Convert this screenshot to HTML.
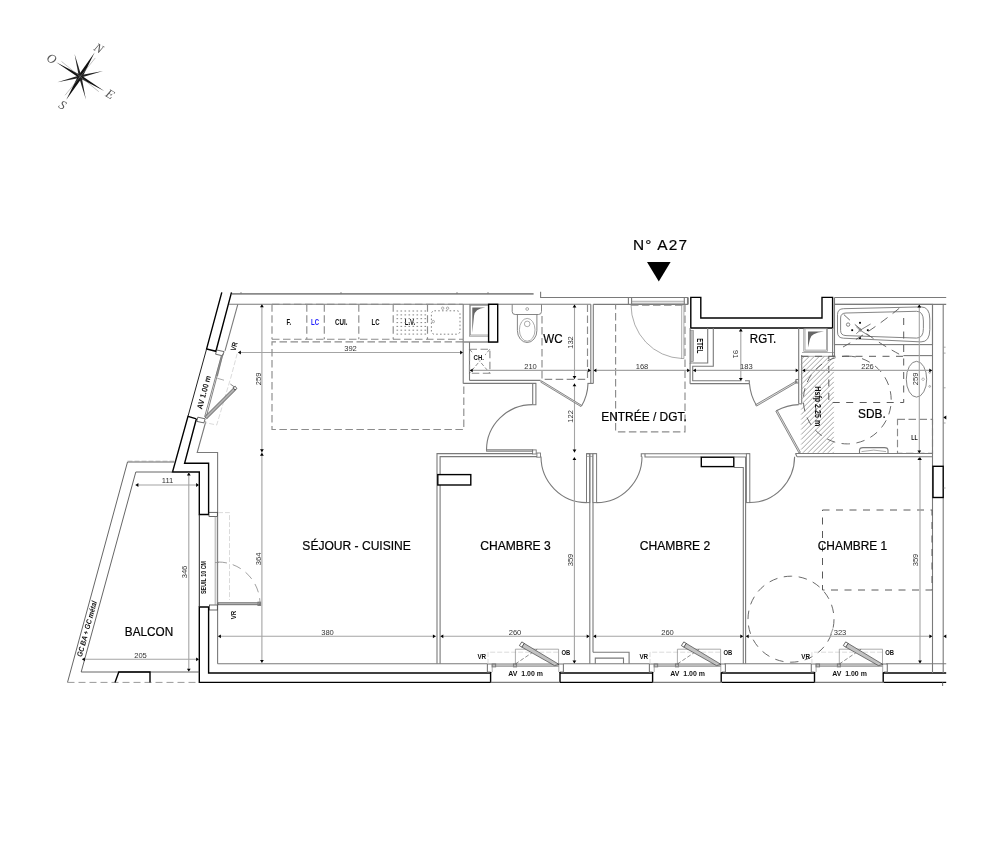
<!DOCTYPE html>
<html lang="fr"><head><meta charset="utf-8"><title>Plan N° A27</title>
<style>
html,body{margin:0;padding:0;background:#fff}
svg{display:block}
#all{opacity:.999}
text{font-family:"Liberation Sans",sans-serif;fill:#000}
.b{fill:none;stroke:#000;stroke-width:1.4;stroke-linejoin:miter}
.b2{fill:#fff;stroke:#000;stroke-width:1.4}
.t{fill:none;stroke:#7a7a7a;stroke-width:1.1}
.dw{fill:#fff;stroke:#7a7a7a;stroke-width:1}
.dr{fill:#e4e4e4;stroke:#6e6e6e;stroke-width:.8}
.g2{fill:none;stroke:#777;stroke-width:.9}
.tw{fill:#fff;stroke:#2a2a2a;stroke-width:.7}
.t2{fill:none;stroke:#8a8a8a;stroke-width:1.7}
.g{fill:none;stroke:#888;stroke-width:.7}
.gf{fill:#bbb;stroke:#777;stroke-width:.5}
.lf2{fill:#b0b0b0;stroke:#4a4a4a;stroke-width:.8}
.tk2{fill:none;stroke:#555;stroke-width:.9}
.dshL{fill:none;stroke:#9a9a9a;stroke-width:1;stroke-dasharray:7 4}
.tk{fill:none;stroke:#222;stroke-width:1}
.lf{fill:#c2c2c2;stroke:#444;stroke-width:.7}
.dm{fill:none;stroke:#a4a4a4;stroke-width:1.1}
.ar{fill:#000;stroke:none}
.dsh{fill:none;stroke:#8c8c8c;stroke-width:1.15;stroke-dasharray:7.5 3.5}
.dshB{fill:none;stroke:#5a5a5a;stroke-width:1;stroke-dasharray:7 6.5}
.dsh2{fill:none;stroke:#888;stroke-width:.8;stroke-dasharray:9 6}
.dsh3{fill:none;stroke:#5a5a5a;stroke-width:.9;stroke-dasharray:8.5 6.5}
.dsh4{fill:none;stroke:#444;stroke-width:.6;stroke-dasharray:4 2}
.ld{fill:none;stroke:#ccc;stroke-width:.7;stroke-dasharray:5 2}
.ld2{fill:none;stroke:#999;stroke-width:.7;stroke-dasharray:5 2}
.dot{fill:none;stroke:#777;stroke-width:.9}
.dotr{fill:none;stroke:#777;stroke-width:.9;stroke-dasharray:1.6 2.2}
.hat{fill:none;stroke:#9c9c9c;stroke-width:.9}
.shade{fill:#666;stroke:none}
.dt{font-size:7.6px;fill:#333}
.rm{font-size:12.3px;fill:#000;stroke:#000;stroke-width:.22}
.sb{font-size:7.6px;font-weight:bold;fill:#111}
.sb3{font-size:8px;font-weight:bold;fill:#111}
.sb4{font-size:8.6px;font-weight:bold;fill:#111}
.sk{font-size:8.4px;font-weight:bold;fill:#111}
.skb{font-size:8.4px;font-weight:bold;fill:#2222ff}
.sb2{font-size:6.9px;font-weight:bold;fill:#111}
.sbb{font-size:7.6px;fill:#1a1aff;stroke:#1a1aff;stroke-width:.28}
.sbi{font-size:7.6px;font-weight:bold;font-style:italic;fill:#111}
.ttl{font-size:15.4px;stroke:#000;stroke-width:.2}
.ct{font-family:"Liberation Serif",serif;font-style:italic;font-size:12.5px;fill:#555}
.cf{fill:#111;stroke:none}
.cf2{fill:#222;stroke:none}
.cl{stroke:#888;stroke-width:.5}
</style></head><body>
<svg width="1000" height="857" viewBox="0 0 1000 857">
<defs><pattern id="hatch" width="3.5" height="3.5" patternUnits="userSpaceOnUse" patternTransform="rotate(-45)"><line x1="0" y1="1" x2="3.5" y2="1" stroke="#999" stroke-width=".9"/></pattern></defs>
<rect width="1000" height="857" fill="#fff"/>
<g id="all">
<g id="compass">
<polygon class="cf" points="78.31423193845535,75.46691623519787 94.62106609748152,52.59931558034085 82.08576806154466,77.73308376480212"/>
<polygon class="cf" points="82.08576806154466,77.73308376480212 66.29397197742854,99.74351711895703 78.31423193845535,75.46691623519787"/>
<polygon class="cf" points="81.02406091985608,75.22853231887662 104.20068441965915,91.02106609748151 79.37593908014392,77.97146768112337"/>
<polygon class="cf" points="79.37593908014392,77.97146768112337 56.19931558034086,62.17893390251848 81.02406091985608,75.22853231887662"/>
<polygon class="cf2" points="79.88550153572044,75.3386155558412 103.00194956748592,70.9148354534078 80.51449846427957,77.86138444415879"/>
<polygon class="cf2" points="81.4613844441588,76.28550153572043 85.8851645465922,99.40194956748591 78.93861555584121,76.91449846427956"/>
<polygon class="cf2" points="80.51449846427957,77.86138444415879 57.39805043251408,82.28516454659218 79.88550153572044,75.3386155558412"/>
<polygon class="cf2" points="78.93861555584121,76.91449846427956 74.51483545340781,53.798050432514074 81.4613844441588,76.28550153572043"/>
<line class="cl" x1="80.2" y1="76.6" x2="95.3" y2="57.95"/>
<line class="cl" x1="80.2" y1="76.6" x2="65.1" y2="95.25"/>
<line class="cl" x1="80.2" y1="76.6" x2="98.85" y2="91.7"/>
<line class="cl" x1="80.2" y1="76.6" x2="61.55" y2="61.5"/>
<text class="ct" x="98.6" y="48.3" text-anchor="middle" transform="rotate(30 98.6 48.3)" dy="4">N</text>
<text class="ct" x="51.6" y="58.8" text-anchor="middle" transform="rotate(30 51.6 58.8)" dy="4">O</text>
<text class="ct" x="62.5" y="105.2" text-anchor="middle" transform="rotate(30 62.5 105.2)" dy="4">S</text>
<text class="ct" x="110" y="94.3" text-anchor="middle" transform="rotate(30 110 94.3)" dy="4">E</text>
</g>
<text class="ttl" x="660" y="250.2" text-anchor="middle" textLength="54" lengthAdjust="spacing">N° A27</text>
<polygon class="ar" points="647,262 670.6,262 658.8,281.6"/>
<polyline class="b" points="221.8,292.4 206.6,348.9 215.9,351.3 231.5,292.4"/>
<polyline class="b" points="196.4,418.8 188,416.3 172.5,472 199.3,472 199.3,514.5 208.6,514.5 208.6,463.2 184.6,463.2 196.4,418.8"/>
<line class="tk" x1="206.6" y1="348.9" x2="188" y2="416.3"/>
<polygon class="b" points="199.3,607 208.6,607 208.6,673 490.6,673 490.6,682.4 199.3,682.4 199.3,607"/>
<polygon class="b" points="560,673 652.6,673 652.6,682.4 560,682.4"/>
<polygon class="b" points="721.2,673 814.5,673 814.5,682.4 721.2,682.4"/>
<polyline class="b" points="946.2,673 883.2,673 883.2,682.4 946.2,682.4"/>
<line class="t" x1="942.6" y1="682.4" x2="942.6" y2="686"/>
<polygon class="b" points="690.8,297.4 700.8,297.4 700.8,318 822,318 822,297.4 832.6,297.4 832.6,328 690.8,328"/>
<line class="t2" x1="232" y1="293.8" x2="533.6" y2="293.8"/>
<line class="t" x1="228.9" y1="304.3" x2="590.8" y2="304.3"/>
<polyline class="t" points="540.6,291.7 540.6,297.5 688.2,297.5"/>
<line class="t" x1="593.3" y1="304.4" x2="688" y2="304.4"/>
<line class="t" x1="241" y1="292.3" x2="241" y2="294"/>
<line class="t" x1="341" y1="292.3" x2="341" y2="294"/>
<line class="t" x1="457" y1="292.3" x2="457" y2="294"/>
<line class="t" x1="488" y1="292.3" x2="488" y2="294"/>
<polyline class="t" points="237.8,304.3 225,350.9"/>
<polyline class="t" points="205.8,421.5 197.2,452.5 217.6,452.5 217.6,663.8"/>
<line class="t" x1="217.6" y1="663.8" x2="487.4" y2="663.8"/>
<line class="t" x1="563.4" y1="663.8" x2="649.6" y2="663.8"/>
<line class="t" x1="724.4" y1="663.8" x2="811.4" y2="663.8"/>
<line class="t" x1="886.2" y1="663.8" x2="946.2" y2="663.8"/>
<g id="winL">
<polygon class="tw" points="216.7,350 224.1,351.6 222.6,355.8 215.6,354.2"/>
<polygon class="tw" points="197.8,417.2 205.2,418.8 203.9,422.9 196.8,421.4"/>
<polygon class="gf" points="223,353.8 221.5,355.7 216,375.6 217.6,376"/>
<line class="g2" x1="223" y1="353.8" x2="206.2" y2="417.2"/>
<line class="g2" x1="221.4" y1="355.7" x2="204.7" y2="416.6"/>
<line class="g" x1="217.3" y1="378.3" x2="224" y2="380.2"/>
<polyline class="ld" points="237.2,353.6 231,377 216.7,425 204.5,422.5"/>
<line class="g2" x1="230.4" y1="384.1" x2="235.6" y2="387.8"/>
<polygon class="lf2" points="204.8,416.7 233.9,387.7 235.9,389.7 206.8,418.7"/>
<polygon class="tw" points="233.2,387.6 235.3,386.3 236.9,388.6 234.8,390"/>
</g>
<text class="sb3" x="206.5" y="393" text-anchor="middle" transform="rotate(-74.7 206.5 393)" textLength="34.5" lengthAdjust="spacingAndGlyphs">AV 1.00 m</text>
<text class="sb" x="236.6" y="347.2" text-anchor="middle" transform="rotate(-74.7 236.6 347.2)" textLength="8.6" lengthAdjust="spacingAndGlyphs">VR</text>
<polyline class="tk2" points="174.3,462 127.5,462 67.5,682.4"/>
<line class="ld2" x1="127.5" y1="461.2" x2="174.3" y2="461.2"/>
<polyline class="tk2" points="172.5,472 135.8,472 81.2,672 199.3,672"/>
<line class="dshL" x1="67.5" y1="682.4" x2="199.3" y2="682.4"/>
<polyline class="b" points="115,682.4 118.8,672 150,672 150,682.4"/>
<line class="dm" x1="135.5" y1="485" x2="199" y2="485"/>
<polygon class="ar" points="135.5,485 138.4,483.1 138.4,486.9"/>
<polygon class="ar" points="199,485 196.1,483.1 196.1,486.9"/>
<text class="dt" x="167.5" y="483.4" text-anchor="middle">111</text>
<line class="dm" x1="188.8" y1="472.5" x2="188.8" y2="671.6"/>
<polygon class="ar" points="188.8,472.5 186.9,475.4 190.70000000000002,475.4"/>
<polygon class="ar" points="188.8,671.6 186.9,668.7 190.70000000000002,668.7"/>
<text class="dt" x="187.20000000000002" y="572" text-anchor="middle" transform="rotate(-90 187.20000000000002 572)">346</text>
<line class="dm" x1="82" y1="659.3" x2="199" y2="659.3"/>
<polygon class="ar" points="82,659.3 84.9,657.4 84.9,661.1999999999999"/>
<polygon class="ar" points="199,659.3 196.1,657.4 196.1,661.1999999999999"/>
<text class="dt" x="140.5" y="657.6999999999999" text-anchor="middle">205</text>
<text class="rm" x="149" y="636.3" text-anchor="middle" textLength="48.3" lengthAdjust="spacingAndGlyphs">BALCON</text>
<text class="sbi" x="89.4" y="629.5" text-anchor="middle" transform="rotate(-74.7 89.4 629.5)" textLength="57.5" lengthAdjust="spacingAndGlyphs">GC BA + GC métal</text>
<text class="sb2" x="205.6" y="577.5" text-anchor="middle" transform="rotate(-90 205.6 577.5)" textLength="33" lengthAdjust="spacingAndGlyphs">SEUIL 10 CM</text>
<text class="sb" x="236.3" y="615" text-anchor="middle" transform="rotate(-90 236.3 615)" textLength="8.6" lengthAdjust="spacingAndGlyphs">VR</text>
<line class="tk" x1="199.3" y1="514.5" x2="199.3" y2="607"/>
<rect class="tw" x="209" y="512.3" width="8.3" height="4.2" />
<rect class="tw" x="209.4" y="605" width="7.9" height="5" />
<line class="g" x1="215.2" y1="516.5" x2="215.2" y2="605"/>
<line class="g" x1="217.2" y1="516.5" x2="217.2" y2="605"/>
<polyline class="ld" points="218,512.6 229.5,512.6 229.5,600"/>
<rect class="lf" x="218" y="602.8" width="42" height="2.0" />
<rect class="t" x="258" y="602.2" width="2.6" height="3.2" />
<path class="dsh2" d="M218,562 A42,42 0 0 1 260,603"/>
<line class="g" x1="215" y1="562.5" x2="219" y2="562.5"/>
<line class="dm" x1="261.9" y1="304.3" x2="261.9" y2="662.8"/>
<polygon class="ar" points="261.9,304.3 260.0,307.2 263.79999999999995,307.2"/>
<polygon class="ar" points="261.9,662.8 260.0,659.9 263.79999999999995,659.9"/>
<polygon class="ar" points="261.9,452.2 260.0,449.3 263.79999999999995,449.3"/>
<polygon class="ar" points="261.9,452.8 260.0,455.7 263.79999999999995,455.7"/>
<text class="dt" x="260.7" y="378.8" text-anchor="middle" transform="rotate(-90 260.7 378.8)">259</text>
<text class="dt" x="260.7" y="558.8" text-anchor="middle" transform="rotate(-90 260.7 558.8)">364</text>
<line class="dm" x1="238" y1="352.5" x2="463" y2="352.5"/>
<polygon class="ar" points="238,352.5 240.9,350.6 240.9,354.4"/>
<polygon class="ar" points="463,352.5 460.1,350.6 460.1,354.4"/>
<text class="dt" x="350.5" y="350.9" text-anchor="middle">392</text>
<line class="dm" x1="218" y1="636.3" x2="435.8" y2="636.3"/>
<polygon class="ar" points="218,636.3 220.9,634.4 220.9,638.1999999999999"/>
<polygon class="ar" points="435.8,636.3 432.90000000000003,634.4 432.90000000000003,638.1999999999999"/>
<text class="dt" x="327.5" y="634.6999999999999" text-anchor="middle">380</text>
<text class="rm" x="356.6" y="550.3" text-anchor="middle" textLength="108.5" lengthAdjust="spacingAndGlyphs">SÉJOUR - CUISINE</text>
<line class="dsh" x1="272" y1="304.3" x2="462.8" y2="304.3"/>
<line class="dsh" x1="272" y1="304.3" x2="272" y2="339.2"/>
<line class="dsh" x1="306.8" y1="304.3" x2="306.8" y2="339.2"/>
<line class="dsh" x1="324.3" y1="304.3" x2="324.3" y2="339.2"/>
<line class="dsh" x1="358.8" y1="304.3" x2="358.8" y2="339.2"/>
<line class="dsh" x1="393.2" y1="304.3" x2="393.2" y2="339.2"/>
<line class="dsh" x1="427.5" y1="304.3" x2="427.5" y2="339.2"/>
<line class="dsh" x1="272" y1="339.2" x2="463" y2="339.2"/>
<polyline class="dsh" points="463,341.9 272,341.9 272,429.5 463.8,429.5 463.8,386"/>
<text class="sk" x="288.8" y="324.6" text-anchor="middle" textLength="4.6" lengthAdjust="spacingAndGlyphs">F.</text>
<text class="skb" x="315" y="324.6" text-anchor="middle" textLength="8" lengthAdjust="spacingAndGlyphs">LC</text>
<text class="sk" x="341.3" y="324.6" text-anchor="middle" textLength="12.5" lengthAdjust="spacingAndGlyphs">CUI.</text>
<text class="sk" x="375.5" y="324.6" text-anchor="middle" textLength="8" lengthAdjust="spacingAndGlyphs">LC</text>
<text class="sk" x="410" y="324.6" text-anchor="middle" textLength="10.5" lengthAdjust="spacingAndGlyphs">L.V.</text>
<path class="dot" d="M396.5,311.0h1.6M396.5,314.9h1.6M396.5,318.7h1.6M396.5,322.6h1.6M396.5,326.4h1.6M396.5,330.2h1.6M396.5,334.1h1.6M400.5,311.0h1.6M400.5,314.9h1.6M400.5,318.7h1.6M400.5,322.6h1.6M400.5,326.4h1.6M400.5,330.2h1.6M400.5,334.1h1.6M404.5,311.0h1.6M404.5,314.9h1.6M404.5,318.7h1.6M404.5,322.6h1.6M404.5,326.4h1.6M404.5,330.2h1.6M404.5,334.1h1.6M408.5,311.0h1.6M408.5,314.9h1.6M408.5,318.7h1.6M408.5,322.6h1.6M408.5,326.4h1.6M408.5,330.2h1.6M408.5,334.1h1.6M412.5,311.0h1.6M412.5,314.9h1.6M412.5,318.7h1.6M412.5,322.6h1.6M412.5,326.4h1.6M412.5,330.2h1.6M412.5,334.1h1.6M416.5,311.0h1.6M416.5,314.9h1.6M416.5,318.7h1.6M416.5,322.6h1.6M416.5,326.4h1.6M416.5,330.2h1.6M416.5,334.1h1.6M420.5,311.0h1.6M420.5,314.9h1.6M420.5,318.7h1.6M420.5,322.6h1.6M420.5,326.4h1.6M420.5,330.2h1.6M420.5,334.1h1.6M424.5,311.0h1.6M424.5,314.9h1.6M424.5,318.7h1.6M424.5,322.6h1.6M424.5,326.4h1.6M424.5,330.2h1.6M424.5,334.1h1.6"/>
<rect class="dotr" x="431.4" y="310.8" width="28.6" height="23.4" rx="3"/>
<circle class="g" cx="442.7" cy="308.2" r="1.2"/>
<circle class="g" cx="447.6" cy="308.2" r="1.2"/>
<circle class="g" cx="433.3" cy="321.6" r="1.2"/>
<line class="t" x1="463.2" y1="304.3" x2="463.2" y2="383.4"/>
<rect class="g" x="469.5" y="304.3" width="19.1" height="31.9" />
<rect class="g" x="470.6" y="305.4" width="18.0" height="29.6" />
<path class="shade" d="M472.3,307.6 L485.3,307.6 Q474.5,309 474,316 L472.3,332.9 Z"/>
<line class="t2" x1="463.2" y1="342" x2="497.7" y2="342"/>
<rect class="b2" x="488.6" y="304.3" width="9.1" height="37.7" />
<line class="t" x1="469.5" y1="342" x2="469.5" y2="380.4"/>
<rect class="dsh" x="469.5" y="349.2" width="20.4" height="24.0" />
<line class="dsh4" x1="469.5" y1="349.2" x2="489.9" y2="373.2"/>
<line class="dsh4" x1="489.9" y1="349.2" x2="469.5" y2="373.2"/>
<rect x="473" y="353" width="12" height="7.6" fill="#fff"/>
<text class="sb" x="478.8" y="359.7" text-anchor="middle" textLength="10.4" lengthAdjust="spacingAndGlyphs">CH.</text>
<polyline class="t" points="469.5,380.4 540.6,380.4"/>
<polyline class="t" points="463.2,383.4 536.3,383.4"/>
<polyline class="t" points="532.7,383.4 532.7,404.8"/>
<polyline class="t" points="535.9,383.4 535.9,404.8 532.7,404.8"/>
<path class="g2" d="M512.2,304.4 L512.2,311.5 Q512.2,314.5 515.2,314.5 L538.5,314.5 Q541.5,314.5 541.5,311.5 L541.5,304.4"/>
<path class="g2" d="M517.4,314.5 L517.4,330.5 A9.75,12 0 0 0 536.9,330.5 L536.9,314.5"/>
<ellipse class="g" cx="527.2" cy="329.8" rx="7.8" ry="11.4"/>
<circle class="g" cx="527.2" cy="309" r="1.4"/><circle class="g" cx="527.2" cy="323.9" r="2.8"/>
<text class="rm" x="553" y="342.5" text-anchor="middle" textLength="19.3" lengthAdjust="spacingAndGlyphs">WC</text>
<polyline class="dsh" points="542,316 542,379.3 587.5,379.3 587.5,304.3"/>
<line class="t" x1="590.8" y1="304.3" x2="590.8" y2="383.4"/>
<line class="t" x1="593.3" y1="304.3" x2="593.3" y2="383.4"/>
<line class="t" x1="587.5" y1="383.4" x2="593.3" y2="383.4"/>
<line class="dm" x1="469.8" y1="370.4" x2="591" y2="370.4"/>
<polygon class="ar" points="469.8,370.4 472.7,368.5 472.7,372.29999999999995"/>
<polygon class="ar" points="591,370.4 588.1,368.5 588.1,372.29999999999995"/>
<text class="dt" x="530.5" y="368.79999999999995" text-anchor="middle">210</text>
<line class="dm" x1="574.5" y1="304.6" x2="574.5" y2="379"/>
<polygon class="ar" points="574.5,304.6 572.6,307.5 576.4,307.5"/>
<polygon class="ar" points="574.5,379 572.6,376.1 576.4,376.1"/>
<text class="dt" x="572.9" y="342.5" text-anchor="middle" transform="rotate(-90 572.9 342.5)">132</text>
<line class="dm" x1="574.5" y1="383.4" x2="574.5" y2="452.5"/>
<polygon class="ar" points="574.5,383.4 572.6,386.29999999999995 576.4,386.29999999999995"/>
<polygon class="ar" points="574.5,452.5 572.6,449.6 576.4,449.6"/>
<text class="dt" x="572.9" y="416.3" text-anchor="middle" transform="rotate(-90 572.9 416.3)">122</text>
<polygon class="dr" points="541.4,380.8 581.7,405.4 581,406.6 540.7,382.1"/>
<path class="t" d="M581.5,406 A47,47 0 0 0 588,383.4"/>
<rect class="dw" x="486.6" y="449.8" width="46.0" height="1.4" />
<path class="t" d="M532.7,404.6 A46.2,45.5 0 0 0 486.5,450"/>
<line class="t" x1="628.4" y1="297.5" x2="628.4" y2="304.4"/>
<line class="t" x1="631.6" y1="297.5" x2="631.6" y2="304.4"/>
<line class="t" x1="684.3" y1="297.5" x2="684.3" y2="304.4"/>
<line class="t" x1="687.5" y1="297.5" x2="687.5" y2="304.4"/>
<line class="t" x1="688.2" y1="297.5" x2="688.2" y2="304.4"/>
<line class="g" x1="631.6" y1="301.3" x2="684.3" y2="301.3"/>
<line class="g" x1="631.6" y1="303.2" x2="684.3" y2="303.2"/>
<line class="g" x1="681.7" y1="304.4" x2="681.7" y2="358.5"/>
<line class="g" x1="683.9" y1="304.4" x2="683.9" y2="358.5"/>
<line class="g" x1="681.7" y1="358.5" x2="683.9" y2="358.5"/>
<path class="g" d="M631,304.5 A52.5,54 0 0 0 682,358.5"/>
<polyline class="dsh" points="685,304.4 685,431.8 615.6,431.8 615.6,304.4"/>
<line class="dsh" x1="631" y1="305.2" x2="685" y2="305.2"/>
<line class="dm" x1="593.5" y1="370.4" x2="690" y2="370.4"/>
<polygon class="ar" points="593.5,370.4 596.4,368.5 596.4,372.29999999999995"/>
<polygon class="ar" points="690,370.4 687.1,368.5 687.1,372.29999999999995"/>
<text class="dt" x="642" y="368.79999999999995" text-anchor="middle">168</text>
<text class="rm" x="644" y="421.3" text-anchor="middle" textLength="85.5" lengthAdjust="spacingAndGlyphs">ENTRÉE / DGT.</text>
<polyline class="t" points="690.1,328 690.1,363 692.7,363"/>
<line class="t" x1="690.1" y1="363" x2="690.1" y2="383.8"/>
<rect class="gf" x="690.4" y="330.5" width="3.0" height="31.2" />
<polyline class="t" points="707.7,328 707.7,363 692.7,363"/>
<polyline class="t" points="713.3,328 713.3,366.3 692.7,366.3 692.7,380.7 741.5,380.7"/>
<polyline class="t" points="690.1,383.6 749.3,383.6 749.3,380.7 745,380.7"/>
<text class="sb4" x="696.8" y="345.8" text-anchor="middle" transform="rotate(90 696.8 345.8)" textLength="15" lengthAdjust="spacingAndGlyphs">ETEL</text>
<text class="rm" x="763" y="342.5" text-anchor="middle" textLength="26.3" lengthAdjust="spacingAndGlyphs">RGT.</text>
<line class="dm" x1="740.8" y1="328.6" x2="740.8" y2="380.8"/>
<polygon class="ar" points="740.8,328.6 738.9,331.5 742.6999999999999,331.5"/>
<polygon class="ar" points="740.8,380.8 738.9,377.90000000000003 742.6999999999999,377.90000000000003"/>
<text class="dt" x="733.4" y="354.3" text-anchor="middle" transform="rotate(90 733.4 354.3)">91</text>
<line class="dm" x1="693" y1="370.4" x2="798.6" y2="370.4"/>
<polygon class="ar" points="693,370.4 695.9,368.5 695.9,372.29999999999995"/>
<polygon class="ar" points="798.6,370.4 795.7,368.5 795.7,372.29999999999995"/>
<text class="dt" x="746.3" y="368.79999999999995" text-anchor="middle">183</text>
<polygon class="dr" points="797.2,382.2 756.5,406.1 755.6,404.7 796.4,380.9"/>
<path class="t" d="M749.5,383.8 A49,49 0 0 0 756.2,405"/>
<line class="t" x1="798.7" y1="328" x2="798.7" y2="403.8"/>
<line class="t" x1="801.7" y1="355" x2="801.7" y2="403.8"/>
<polyline class="t" points="795.8,379.5 798.8,379.5"/>
<polyline class="t" points="795.8,379.5 795.8,383 798.8,383"/>
<polyline class="t" points="798.7,403.8 801.7,403.8"/>
<rect class="g" x="803.8" y="328.7" width="23.8" height="22.6" />
<rect class="g" x="805" y="328.7" width="21.4" height="21.4" />
<path class="shade" d="M808,331.5 L824,331.5 Q810.5,333 810,339 L808,347.5 Z"/>
<line class="g" x1="802" y1="352.5" x2="834.5" y2="352.5"/>
<line class="g" x1="802" y1="356.3" x2="834.5" y2="356.3"/>
<polyline class="t" points="832.6,328 832.6,356 834.5,356 834.5,297.5"/>
<path class="hat" d="M801.2,359.5L804.5,356.2M801.2,364.5L809.5,356.2M801.2,369.5L814.5,356.2M801.2,374.5L819.5,356.2M801.2,379.5L824.5,356.2M801.2,384.5L829.5,356.2M801.2,389.5L833.8,356.9M801.2,394.5L833.8,361.9M801.2,399.5L833.8,366.9M801.2,404.5L833.8,371.9M801.2,409.5L833.8,376.9M801.2,414.5L833.8,381.9M801.2,419.5L833.8,386.9M801.2,424.5L833.8,391.9M801.2,429.5L833.8,396.9M801.2,434.5L833.8,401.9M801.2,439.5L833.8,406.9M801.2,444.5L833.8,411.9M801.2,449.5L833.8,416.9M802.9,452.8L833.8,421.9M807.9,452.8L833.8,426.9M812.9,452.8L833.8,431.9M817.9,452.8L833.8,436.9M822.9,452.8L833.8,441.9M827.9,452.8L833.8,446.9M832.9,452.8L833.8,451.9"/>
<text class="sb4" x="815.2" y="406.3" text-anchor="middle" transform="rotate(90 815.2 406.3)" textLength="40" lengthAdjust="spacingAndGlyphs">Hsfp 2.25 m</text>
<polygon class="dr" points="799,453 775.8,411.2 777.2,410.4 800.4,452.3"/>
<path class="t" d="M776.4,410.8 A47.5,47.5 0 0 1 798.8,404.6"/>
<line class="t" x1="834.5" y1="297.5" x2="946.2" y2="297.5"/>
<line class="t" x1="834.5" y1="304.4" x2="946.2" y2="304.4"/>
<rect class="t" x="834.4" y="304.4" width="98.1" height="40.2" />
<path class="g2" d="M843.5,308.7 L921,306.9 Q929.8,306.9 929.8,319 L929.8,329.5 Q929.8,342 921,341.9 L843.5,338.2 Q837.5,338 837.5,332 L837.5,314.7 Q837.5,308.8 843.5,308.7 Z"/>
<path class="g2" d="M846,313 L916.5,311.3 Q923.4,311.3 923.4,321 L923.4,328.5 Q923.4,338.2 916.5,338.1 L846,335.6 Q840.6,335.4 840.6,330.4 L840.6,318 Q840.6,313.1 846,313 Z"/>
<circle class="g2" cx="848.1" cy="324.6" r="1.7"/>
<circle class="g" cx="860.2" cy="330.2" r="1.2"/>
<polyline class="g2" points="860.2,330.2 870.6,324"/>
<polyline class="g2" points="860.2,330.2 870,336.5"/>
<polyline class="g2" points="860.2,330.2 856.3,326.8"/>
<polyline class="g2" points="860.2,330.2 856.3,333.7"/>
<rect class="ar" x="859.1" y="321.90000000000003" width="1.8" height="1.8" />
<rect class="ar" x="859.1" y="337.20000000000005" width="1.8" height="1.8" />
<rect class="ar" x="851.3000000000001" y="329.3" width="1.8" height="1.8" />
<rect class="ar" x="866.9" y="329.3" width="1.8" height="1.8" />
<line class="t" x1="903.4" y1="355.6" x2="932.5" y2="355.6"/>
<polyline class="dshB" points="801.5,356.3 903.7,356.3"/>
<polyline class="dshB" points="903.7,318 903.7,402.5 828.8,402.5 828.8,356.3"/>
<circle class="dsh3" cx="847.3" cy="400" r="43.9" transform="rotate(-90 847.3 400)"/>
<path class="dsh3" d="M843,347 Q872,331 903.2,305"/>
<path class="dsh3" d="M843.7,314.4 Q868,338 903.2,356.3"/>
<ellipse class="g2" cx="916.5" cy="379.2" rx="10.2" ry="17.9"/>
<polygon class="g" points="923.1,377.7 924.6,379.2 923.1,380.7 921.6,379.2"/>
<circle class="g" cx="929.7" cy="386.4" r="0.9"/><circle class="g" cx="929.7" cy="372.4" r="0.9"/>
<rect class="dsh" x="897.5" y="419.3" width="35.0" height="34.0" />
<text class="sb" x="914.5" y="440.2" text-anchor="middle" textLength="6.5" lengthAdjust="spacingAndGlyphs">LL</text>
<text class="rm" x="871.9" y="417.6" text-anchor="middle" textLength="27.6" lengthAdjust="spacingAndGlyphs">SDB.</text>
<path class="t" d="M859.5,453.3 L859.5,450.5 Q859.5,447.6 863,447.6 L884.5,447.6 Q888,447.6 888,450.5 L888,453.3"/>
<path class="g" d="M861.5,451.6 Q873.7,448.6 886,451.6"/>
<line class="dm" x1="802.3" y1="370.4" x2="932.2" y2="370.4"/>
<polygon class="ar" points="802.3,370.4 805.1999999999999,368.5 805.1999999999999,372.29999999999995"/>
<polygon class="ar" points="932.2,370.4 929.3000000000001,368.5 929.3000000000001,372.29999999999995"/>
<text class="dt" x="867.5" y="368.79999999999995" text-anchor="middle">226</text>
<line class="dm" x1="919.3" y1="304.6" x2="919.3" y2="453.3"/>
<polygon class="ar" points="919.3,304.6 917.4,307.5 921.1999999999999,307.5"/>
<polygon class="ar" points="919.3,453.3 917.4,450.40000000000003 921.1999999999999,450.40000000000003"/>
<text class="dt" x="917.7" y="378.8" text-anchor="middle" transform="rotate(-90 917.7 378.8)">259</text>
<polygon class="ar" points="919.3,457.2 917.4,460.09999999999997 921.1999999999999,460.09999999999997"/>
<line class="t" x1="795.5" y1="453.5" x2="932.5" y2="453.5"/>
<line class="t" x1="797" y1="456.8" x2="932.5" y2="456.8"/>
<line class="t" x1="795.5" y1="453.5" x2="797" y2="456.8"/>
<line class="t" x1="932.5" y1="304.4" x2="932.5" y2="673"/>
<line class="t" x1="943.2" y1="304.4" x2="943.2" y2="466.3"/>
<line class="t" x1="943.2" y1="497.5" x2="943.2" y2="673"/>
<rect class="b2" x="933" y="466.3" width="10.2" height="31.2" />
<line class="g" x1="943.5" y1="347.2" x2="945.6" y2="347.2"/>
<line class="g" x1="943.5" y1="353.1" x2="945.6" y2="353.1"/>
<line class="g" x1="943.5" y1="387.8" x2="945.6" y2="387.8"/>
<line class="g" x1="943.5" y1="417" x2="945.6" y2="417"/>
<line class="g" x1="943.5" y1="423" x2="945.6" y2="423"/>
<line class="g" x1="943.5" y1="488" x2="945.6" y2="488"/>
<polygon class="ar" points="943.4,417.5 946.3,415.6 946.3,419.4"/>
<polyline class="t" points="437,663.8 437,453.6 533,453.6"/>
<polyline class="t" points="440.1,663.8 440.1,456.6 537,456.6"/>
<rect class="g2" x="532.6" y="449.9" width="3.6" height="4.1" />
<rect class="g2" x="536.9" y="453" width="3.6" height="4.2" />
<rect class="b2" x="437.8" y="474.6" width="33.0" height="10.4" />
<text class="rm" x="515.5" y="550" text-anchor="middle" textLength="70.5" lengthAdjust="spacingAndGlyphs">CHAMBRE 3</text>
<line class="dm" x1="440.4" y1="636.3" x2="589.6" y2="636.3"/>
<polygon class="ar" points="440.4,636.3 443.29999999999995,634.4 443.29999999999995,638.1999999999999"/>
<polygon class="ar" points="589.6,636.3 586.7,634.4 586.7,638.1999999999999"/>
<text class="dt" x="515" y="634.6999999999999" text-anchor="middle">260</text>
<rect class="dw" x="586.5" y="453.7" width="3.3" height="48.9" />
<path class="t" d="M586.5,502.6 A45.5,46 0 0 1 541,456.6"/>
<line class="t" x1="589.8" y1="453.7" x2="589.8" y2="663.8"/>
<line class="t" x1="593" y1="453.7" x2="593" y2="652.3"/>
<line class="t" x1="586.5" y1="453.7" x2="596.6" y2="453.7"/>
<line class="g" x1="586.5" y1="456.4" x2="596.6" y2="456.4"/>
<polyline class="t" points="593,652.3 629.1,652.3 629.1,663.8"/>
<polyline class="t" points="595.3,663.8 595.3,658.1 623.5,658.1 623.5,663.8"/>
<line class="dm" x1="574.4" y1="457.2" x2="574.4" y2="663.5"/>
<polygon class="ar" points="574.4,457.2 572.5,460.09999999999997 576.3,460.09999999999997"/>
<polygon class="ar" points="574.4,663.5 572.5,660.6 576.3,660.6"/>
<text class="dt" x="572.8" y="560" text-anchor="middle" transform="rotate(-90 572.8 560)">359</text>
<rect class="dw" x="593" y="453.7" width="3.6" height="48.9" />
<path class="t" d="M596.6,502.6 A45.5,46 0 0 0 642,456.6"/>
<polyline class="t" points="641.3,457 641.3,453.8 750,453.8"/>
<polyline class="t" points="645,453.8 645,457 701.3,457"/>
<rect class="b2" x="701.3" y="457.2" width="32.5" height="9.4" />
<polyline class="t" points="733.8,467.5 743.3,467.5 743.3,663.8"/>
<polyline class="t" points="733.8,457 745.6,457 745.6,663.8"/>
<text class="rm" x="675" y="550" text-anchor="middle" textLength="70.5" lengthAdjust="spacingAndGlyphs">CHAMBRE 2</text>
<line class="dm" x1="593.2" y1="636.3" x2="743.2" y2="636.3"/>
<polygon class="ar" points="593.2,636.3 596.1,634.4 596.1,638.1999999999999"/>
<polygon class="ar" points="743.2,636.3 740.3000000000001,634.4 740.3000000000001,638.1999999999999"/>
<text class="dt" x="667.5" y="634.6999999999999" text-anchor="middle">260</text>
<rect class="dw" x="746.4" y="453.7" width="3.4" height="48.9" />
<path class="t" d="M749.8,502.5 A45,46 0 0 0 794.6,456.8"/>
<rect class="dshB" x="822.5" y="510" width="109.5" height="80" />
<circle class="dsh3" cx="791" cy="619.2" r="43"/>
<text class="rm" x="852.5" y="550" text-anchor="middle" textLength="69.5" lengthAdjust="spacingAndGlyphs">CHAMBRE 1</text>
<line class="dm" x1="745.8" y1="636.3" x2="932.3" y2="636.3"/>
<polygon class="ar" points="745.8,636.3 748.6999999999999,634.4 748.6999999999999,638.1999999999999"/>
<polygon class="ar" points="932.3,636.3 929.4,634.4 929.4,638.1999999999999"/>
<text class="dt" x="840" y="634.6999999999999" text-anchor="middle">323</text>
<line class="dm" x1="830.5" y1="635" x2="833" y2="628.5"/>
<line class="dm" x1="920" y1="457.2" x2="920" y2="663.5"/>
<polygon class="ar" points="920,457.2 918.1,460.09999999999997 921.9,460.09999999999997"/>
<polygon class="ar" points="920,663.5 918.1,660.6 921.9,660.6"/>
<text class="dt" x="918.3" y="560" text-anchor="middle" transform="rotate(-90 918.3 560)">359</text>
<polygon class="ar" points="943.4,636.3 946.3,634.4 946.3,638.1999999999999"/>
<g transform="translate(0.0 0)">
<line class="t" x1="490.6" y1="682.4" x2="560" y2="682.4"/>
<polyline class="t" points="490.6,672 487.4,672 487.4,664 563.4,664 563.4,672 560,672"/>
<line class="b" x1="490.6" y1="673" x2="490.6" y2="672"/>
<line class="b" x1="560" y1="673" x2="560" y2="672"/>
<rect class="t" x="492.2" y="664" width="3.4" height="2.8" />
<rect class="t" x="513.5" y="664" width="3.0" height="2.8" />
<line class="g" x1="492.2" y1="665.3" x2="558.8" y2="665.3"/>
<line class="g" x1="495.6" y1="666.5" x2="558.8" y2="666.5"/>
<line class="g" x1="492.2" y1="664" x2="492.2" y2="672"/>
<line class="g" x1="558.8" y1="664" x2="558.8" y2="672"/>
<polyline class="ld" points="488,664 488,652.2 558.8,652.2"/>
<polyline class="g" points="515.4,664 515.4,649.2 558.6,649.2 558.6,664"/>
<line class="dsh4" x1="515.4" y1="664" x2="537.2" y2="649.2"/>
<polygon class="lf" points="559,664.4 524,643.3 521.6,647 554.5,665.6"/>
<polygon class="tw" points="524.2,643.4 521.8,647.1 519.4,645.6 521.8,641.9"/>
<text class="sb" x="481.8" y="658.9" text-anchor="middle" textLength="8.8" lengthAdjust="spacingAndGlyphs">VR</text>
<text class="sb" x="565.8" y="654.7" text-anchor="middle" textLength="8.8" lengthAdjust="spacingAndGlyphs">OB</text>
<text class="sb" x="525.6" y="675.5" text-anchor="middle" textLength="34.7" lengthAdjust="spacingAndGlyphs">AV&#160;&#160;1.00 m</text>
</g>
<g transform="translate(162.0 0)">
<line class="t" x1="490.6" y1="682.4" x2="560" y2="682.4"/>
<polyline class="t" points="490.6,672 487.4,672 487.4,664 563.4,664 563.4,672 560,672"/>
<line class="b" x1="490.6" y1="673" x2="490.6" y2="672"/>
<line class="b" x1="560" y1="673" x2="560" y2="672"/>
<rect class="t" x="492.2" y="664" width="3.4" height="2.8" />
<rect class="t" x="513.5" y="664" width="3.0" height="2.8" />
<line class="g" x1="492.2" y1="665.3" x2="558.8" y2="665.3"/>
<line class="g" x1="495.6" y1="666.5" x2="558.8" y2="666.5"/>
<line class="g" x1="492.2" y1="664" x2="492.2" y2="672"/>
<line class="g" x1="558.8" y1="664" x2="558.8" y2="672"/>
<polyline class="ld" points="488,664 488,652.2 558.8,652.2"/>
<polyline class="g" points="515.4,664 515.4,649.2 558.6,649.2 558.6,664"/>
<line class="dsh4" x1="515.4" y1="664" x2="537.2" y2="649.2"/>
<polygon class="lf" points="559,664.4 524,643.3 521.6,647 554.5,665.6"/>
<polygon class="tw" points="524.2,643.4 521.8,647.1 519.4,645.6 521.8,641.9"/>
<text class="sb" x="481.8" y="658.9" text-anchor="middle" textLength="8.8" lengthAdjust="spacingAndGlyphs">VR</text>
<text class="sb" x="565.8" y="654.7" text-anchor="middle" textLength="8.8" lengthAdjust="spacingAndGlyphs">OB</text>
<text class="sb" x="525.6" y="675.5" text-anchor="middle" textLength="34.7" lengthAdjust="spacingAndGlyphs">AV&#160;&#160;1.00 m</text>
</g>
<g transform="translate(323.9 0)">
<line class="t" x1="490.6" y1="682.4" x2="560" y2="682.4"/>
<polyline class="t" points="490.6,672 487.4,672 487.4,664 563.4,664 563.4,672 560,672"/>
<line class="b" x1="490.6" y1="673" x2="490.6" y2="672"/>
<line class="b" x1="560" y1="673" x2="560" y2="672"/>
<rect class="t" x="492.2" y="664" width="3.4" height="2.8" />
<rect class="t" x="513.5" y="664" width="3.0" height="2.8" />
<line class="g" x1="492.2" y1="665.3" x2="558.8" y2="665.3"/>
<line class="g" x1="495.6" y1="666.5" x2="558.8" y2="666.5"/>
<line class="g" x1="492.2" y1="664" x2="492.2" y2="672"/>
<line class="g" x1="558.8" y1="664" x2="558.8" y2="672"/>
<polyline class="ld" points="488,664 488,652.2 558.8,652.2"/>
<polyline class="g" points="515.4,664 515.4,649.2 558.6,649.2 558.6,664"/>
<line class="dsh4" x1="515.4" y1="664" x2="537.2" y2="649.2"/>
<polygon class="lf" points="559,664.4 524,643.3 521.6,647 554.5,665.6"/>
<polygon class="tw" points="524.2,643.4 521.8,647.1 519.4,645.6 521.8,641.9"/>
<text class="sb" x="481.8" y="658.9" text-anchor="middle" textLength="8.8" lengthAdjust="spacingAndGlyphs">VR</text>
<text class="sb" x="565.8" y="654.7" text-anchor="middle" textLength="8.8" lengthAdjust="spacingAndGlyphs">OB</text>
<text class="sb" x="525.6" y="675.5" text-anchor="middle" textLength="34.7" lengthAdjust="spacingAndGlyphs">AV&#160;&#160;1.00 m</text>
</g>
</g>
</svg>
</body></html>
